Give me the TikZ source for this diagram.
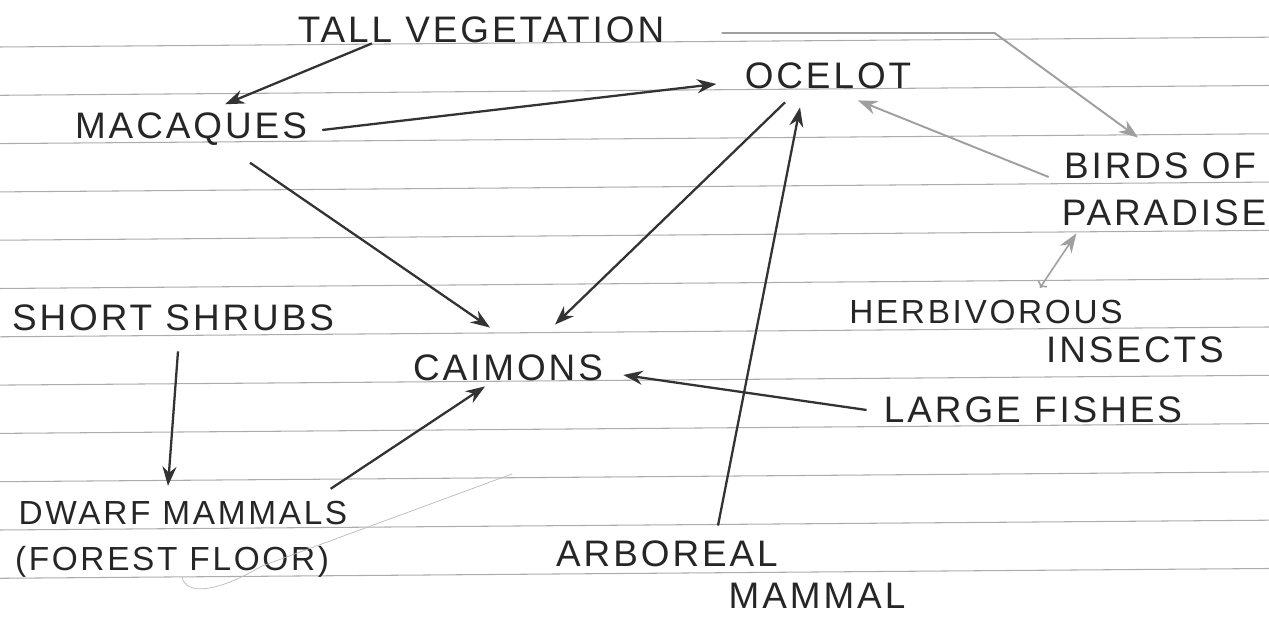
\documentclass[tikz,border=0pt]{standalone}
\usepackage{fontspec}
\setmainfont[LetterSpace=8]{Liberation Sans}
\usetikzlibrary{arrows.meta, calc}
\tikzset{
  species/.style  = {font=\fontsize{21}{24}\selectfont, text=black!85,
                     inner sep=0pt},                 % handwritten labels
  small/.style    = {font=\fontsize{19}{22}\selectfont},
  eats/.style     = {-{Stealth[length=11pt, width=8pt]}, line width=1.3pt,
                     draw=black!80},
  faint/.style    = {eats, draw=gray!75, line width=1.1pt},
  ruling/.style   = {draw=gray!65, line width=0.6pt},  % notebook lines
  stray/.style    = {draw=gray!55, line width=0.4pt}
}

\begin{document}
\begin{tikzpicture}[x=0.02cm, y=-0.02cm]
  \useasboundingbox (0,0) rectangle (1269,617);
  \foreach \k in {0,...,11}
    \draw[ruling] (0,{47+48.3*\k}) -- (1269,{37.2+48.3*\k});

  \node[species] (tall)        at (481,30)  {TALL VEGETATION};
  \node[species] (ocelot)      at (828,76)  {OCELOT};
  \node[species] (macaques)    at (191,129) {MACAQUES};
  \node[species] (birds)       at (1160,166) {BIRDS OF};
  \node[species] (paradise)    at (1164,213) {PARADISE};
  \node[species, small] (herbivorous) at (986,312) {HERBIVOROUS};
  \node[species] (insects)     at (1135,350) {INSECTS};
  \node[species] (shrubs)      at (173,318) {SHORT SHRUBS};
  \node[species] (caimons)     at (508,368) {CAIMONS};
  \node[species] (fishes)      at (1033,410) {LARGE FISHES};
  \node[species, small] (dwarf) at (183,513) {DWARF MAMMALS};
  \node[species, small] (floor) at (172,562) {(FOREST FLOOR)};
  \node[species] (arboreal)    at (667,554) {ARBOREAL};
  \node[species] (mammal)      at (817,596) {MAMMAL};

  \draw[eats]  ($(tall.south)+(-109,0)$) -- ($(macaques.north)+(34,-8)$);
  \draw[eats]  ($(macaques.east)+(15,1)$) -- ($(ocelot.west)+(-28,8)$);
  \draw[faint] ($(tall.east)+(57,3)$) -- ++(273,0) -- ($(birds.north)+(-22,-15)$);
  \draw[eats]  ($(macaques.south)+(59,17)$) -- ($(caimons.north)+(-18,-27)$);
  \draw[eats]  ($(ocelot.south)+(-43,13)$) -- ($(caimons.north)+(47,-30)$);
  \draw[eats]  ($(arboreal.north)+(51,-15)$) -- ($(ocelot.south)+(-28,18)$);
  \draw[faint] ($(birds.west)+(-15,11)$) -- ($(ocelot.south)+(30,11)$);
  \draw[faint, line width=0.9pt, {To[length=3pt]}-{Stealth[length=11pt, width=8pt]}]
    ($(herbivorous.north)+(54,-12)$) -- ($(paradise.south west)+(15,7)$);
  \draw[eats]  ($(shrubs.south)+(5,20)$) -- ($(dwarf.north)+(-15,-15)$);
  \draw[eats]  ($(dwarf.north east)+(-17,-12)$) -- ($(caimons.south)+(-23,5)$);
  \draw[eats]  ($(fishes.west)+(-17,0)$) -- ($(caimons.east)+(20,7)$);

  % pencil slip under the forest floor label
  \draw[stray] (182,577) .. controls (186,596) and (218,592) .. (262,566) -- (512,474);
\end{tikzpicture}
\end{document}
